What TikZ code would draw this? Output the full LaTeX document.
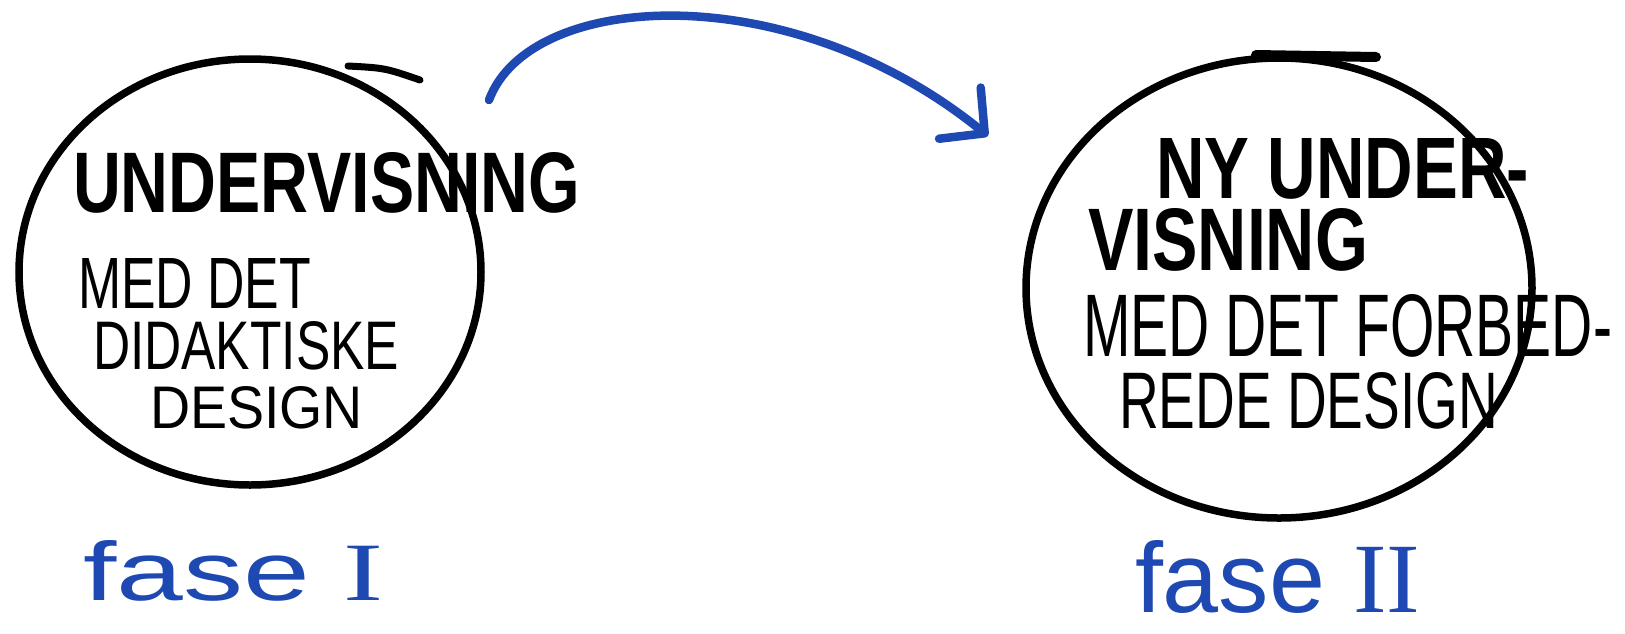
\documentclass[tikz,border=0pt]{standalone}
\usepackage{fontspec}
\setmainfont{Liberation Sans}
\newfontfamily\serifnum{Liberation Serif}
\usetikzlibrary{arrows.meta,shapes.geometric}
\definecolor{penblue}{RGB}{30,72,178}
\newcommand{\fitbox}[3]{\resizebox{#1pt}{#2pt}{#3}}
\begin{document}
\begin{tikzpicture}[x=1pt,y=-1pt,
  ring/.style={draw=black, ellipse, line width=7.5pt, inner sep=0pt},
  word/.style={anchor=north west, inner sep=0pt, outer sep=0pt},
  bigword/.style={word, font=\bfseries},
  phase/.style={word, text=penblue},
  penarrow/.style={draw=penblue, line width=8.5pt, line cap=round, line join=round,
    -{Straight Barb[length=32pt,width=66pt,round]}},
  scribble/.style={draw=black, line cap=round}]
\useasboundingbox (0,0) rectangle (1625,633);
\fill[white] (0,0) rectangle (1625,633);

% left circle
\node[ring, minimum width=462pt, minimum height=426pt] (c1) at (250,272) {};
\draw[scribble, line width=7pt] (348,66) .. controls (385,68) .. (420,80);
\node[bigword] (t1) at (73,152) {\fitbox{507}{60}{UNDERVISNING}};
\node[word] (t2) at (78,258) {\fitbox{233}{50}{MED DET}};
\node[word] (t3) at (93,321) {\fitbox{306}{48}{DIDAKTISKE}};
\node[word] (t4) at (150,386) {\fitbox{213}{42}{DESIGN}};
\node[phase] (f1) at (83,540) {\fitbox{300}{60}{fase {\serifnum I}}};

% right circle
\node[ring, minimum width=506pt, minimum height=460pt] (c2) at (1279,288) {};
\draw[scribble, line width=10pt] (1256,55) -- (1376,57);
\node[bigword] (r1) at (1156,138) {\fitbox{373}{60}{NY UNDER-}};
\node[bigword] (r2) at (1088,208) {\fitbox{280}{62}{VISNING}};
\node[word] (r3) at (1083,294) {\fitbox{529}{62}{MED DET FORBED-}};
\node[word] (r4) at (1119,372) {\fitbox{379}{56}{REDE DESIGN}};
\node[phase] (f2) at (1135,540) {\fitbox{285}{72}{fase {\serifnum II}}};

% arrow
\coordinate (a0) at (489,100);
\coordinate (a1) at (988,136);
\draw[penarrow] (a0) .. controls (530,-10) and (790,-25) .. (a1);
\end{tikzpicture}
\end{document}
